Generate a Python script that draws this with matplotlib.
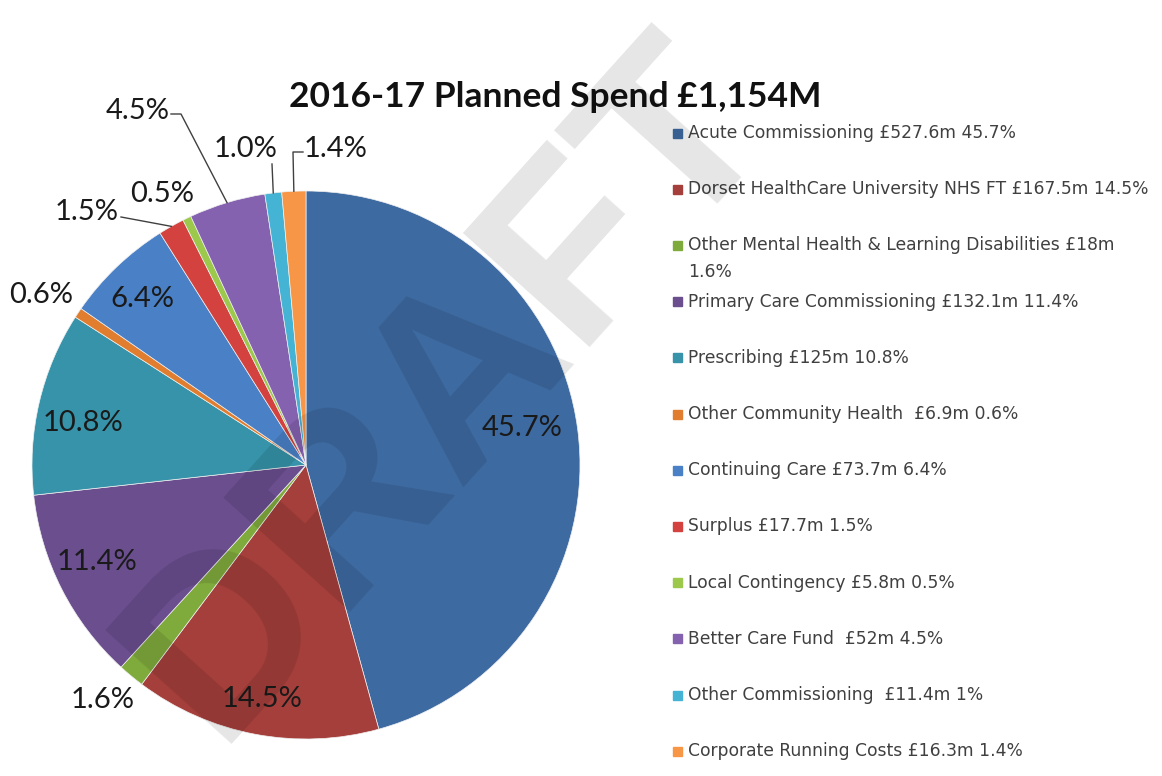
import numpy as np
import matplotlib
matplotlib.use("Agg")
import matplotlib.pyplot as plt

plt.rcParams['font.family'] = ['Lato', 'DejaVu Sans']

# spend in £m, clockwise from 12 o'clock
spend = [527.6, 167.5, 18, 132.1, 125, 6.9, 73.7, 17.7, 5.8, 52, 11.4, 16.3]
pct_labels = ['45.7%', '14.5%', '1.6%', '11.4%', '10.8%', '0.6%',
              '6.4%', '1.5%', '0.5%', '4.5%', '1.0%', '1.4%']
legend_labels = [
    'Acute Commissioning £527.6m 45.7%',
    'Dorset HealthCare University NHS FT £167.5m 14.5%',
    'Other Mental Health & Learning Disabilities £18m\n1.6%',
    'Primary Care Commissioning £132.1m 11.4%',
    'Prescribing £125m 10.8%',
    'Other Community Health  £6.9m 0.6%',
    'Continuing Care £73.7m 6.4%',
    'Surplus £17.7m 1.5%',
    'Local Contingency £5.8m 0.5%',
    'Better Care Fund  £52m 4.5%',
    'Other Commissioning  £11.4m 1%',
    'Corporate Running Costs £16.3m 1.4%',
]
colors = ['#3D6AA1', '#A53F3B', '#7FAA3C', '#6A4E8E', '#3693A9', '#E07D2E',
          '#4A80C6', '#D3423E', '#9CC84B', '#8462B0', '#45B3D3', '#F79646']

fig = plt.figure(figsize=(11.62, 7.76), dpi=100)
W, H = 1162, 776

# pie: centre (306,465) px, radius 274 px
cx, cy, R = 306, 465, 274
ax = fig.add_axes([(cx - R) / W, (H - cy - R) / H, 2 * R / W, 2 * R / H])
wedges, _ = ax.pie(spend, colors=colors, startangle=90, counterclock=False,
                   wedgeprops=dict(linewidth=0.5, edgecolor='#f0f0f0'))
ax.set_xlim(-1, 1)
ax.set_ylim(-1, 1)
ax.set_aspect('equal')
ax.axis('off')

def mid_angle(w):
    return np.deg2rad((w.theta1 + w.theta2) / 2)

def px(x, y):
    return ((x - cx) / R, (cy - y) / R)

# inside labels: slice index -> radius, angle nudge (deg)
inside = {0: (0.80, 2), 1: (0.87, 0), 3: (0.84, -2), 4: (0.83, 2.5), 6: (0.85, 1)}
for i, (r, da) in inside.items():
    a = mid_angle(wedges[i]) + np.deg2rad(da)
    ax.text(r * np.cos(a), r * np.sin(a), pct_labels[i], ha='center',
            va='center', fontsize=21, color='#1a1a1a')

# outside labels: (slice index, text pos px, elbow px for leader line)
outside = [
    (2, (103, 700), None),
    (5, (41, 295), None),
    (8, (162, 194), None),
    (7, (87, 212), [(121, 217)]),
    (9, (138, 111), [(171, 114), (181, 114)]),
    (10, (246, 149), [(272, 164)]),
    (11, (336, 149), [(303, 152), (293, 152)]),
]
for i, tpos, elbow in outside:
    if elbow:
        a = mid_angle(wedges[i])
        pts = [px(*p) for p in elbow] + [(np.cos(a), np.sin(a))]
        xs, ys = zip(*pts)
        ax.plot(xs, ys, color='#404040', lw=1.0, clip_on=False)
    tx, ty = px(*tpos)
    ax.text(tx, ty, pct_labels[i], ha='center', va='center', fontsize=21,
            color='#1a1a1a')

fig.text(555 / W, 1 - 97 / H, '2016-17 Planned Spend £1,154M', ha='center',
         va='center', fontsize=25.5, fontweight='bold', color='#111111')

# legend
leg_y0, leg_dy = 133, 56.2
for k, (lab, c) in enumerate(zip(legend_labels, colors)):
    y = leg_y0 + k * leg_dy
    fig.patches.append(plt.Rectangle((673 / W, 1 - (y + 4.5) / H), 9 / W, 9 / H,
                                     transform=fig.transFigure, color=c))
    two = '\n' in lab
    fig.text(688 / W, 1 - (y - 9 if two else y) / H, lab, ha='left',
             va='top' if two else 'center', fontsize=12.3,
             family=['DejaVu Sans'], color='#404040', linespacing=1.6)

# DRAFT watermark
fig.text(448 / W, 1 - 390 / H, 'DRAFT', ha='center', va='center', rotation=48,
         rotation_mode='anchor', fontsize=178, fontweight='bold',
         family='Liberation Sans', color='black', alpha=0.1)

fig.savefig('out.png', dpi=100)
